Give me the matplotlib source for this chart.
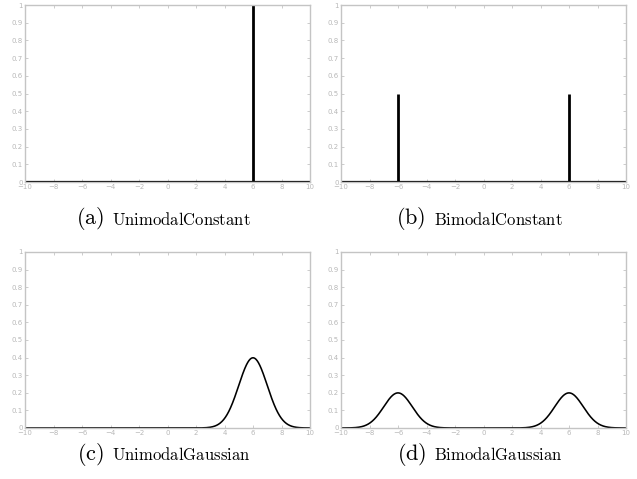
import numpy as np
import matplotlib
matplotlib.use("Agg")
import matplotlib.pyplot as plt

plt.rcParams['mathtext.fontset'] = 'cm'

# Data
panel_labels = ["a", "b", "c", "d"]
panel_names = ["UnimodalConstant", "BimodalConstant", "UnimodalGaussian", "BimodalGaussian"]
const_positions = {"a": [6], "b": [-6, 6]}
const_heights = {"a": [1.0], "b": [0.5, 0.5]}
gauss_means = {"c": [6], "d": [-6, 6]}
gauss_weights = {"c": [1.0], "d": [0.5, 0.5]}
gauss_sigma = 1.0
x_ticks = [-10, -8, -6, -4, -2, 0, 2, 4, 6, 8, 10]
y_ticks = [0, 0.1, 0.2, 0.3, 0.4, 0.5, 0.6, 0.7, 0.8, 0.9, 1]

W, H = 637, 479
fig = plt.figure(figsize=(W / 100, H / 100), dpi=100)

rects = {
    "a": (25, 5, 310, 182),
    "b": (341, 5, 626, 182),
    "c": (25, 252, 310, 428),
    "d": (341, 252, 626, 428),
}
captions_y = {"a": 219, "b": 219, "c": 454, "d": 454}

gray = "#c4c4c4"
x = np.linspace(-10, 10, 1001)

caps = []
for lab, name in zip(panel_labels, panel_names):
    l, t, r, b = rects[lab]
    ax = fig.add_axes([l / W, 1 - b / H, (r - l) / W, (b - t) / H])
    if lab in const_positions:
        ax.plot([-10, 10], [0, 0], color="black", lw=1.6, solid_capstyle="butt")
        ax.vlines(const_positions[lab], 0, const_heights[lab], color="black", lw=2.0)
    else:
        y = np.zeros_like(x)
        for m, w in zip(gauss_means[lab], gauss_weights[lab]):
            y += w * np.exp(-0.5 * ((x - m) / gauss_sigma) ** 2) / (gauss_sigma * np.sqrt(2 * np.pi))
        ax.plot(x, y, color="black", lw=1.15)
    ax.set_xlim(-10, 10)
    ax.set_ylim(0, 1)
    ax.set_xticks(x_ticks)
    ax.set_yticks(y_ticks)
    ax.set_xticklabels([("\u2212" + str(abs(v))) if v < 0 else str(v) for v in x_ticks])
    ax.set_yticklabels(["0" if v == 0 else ("1" if v == 1 else f"{v:.1f}") for v in y_ticks])
    ax.tick_params(direction="in", length=2.5, width=0.6, color=gray, labelcolor="#b8b8b8",
                   labelsize=5, pad=1.5, top=True, right=True)
    for s in ax.spines.values():
        s.set_color(gray)
        s.set_linewidth(1.0)
    cy = 1 - captions_y[lab] / H
    tp = fig.text(0, cy, r"$(\mathrm{%s})$" % lab, fontsize=16, ha="left", va="center")
    tn = fig.text(0, cy - 0.002, r"$\mathrm{%s}$" % name, fontsize=12, ha="left", va="center")
    caps.append((tp, tn, (l + r) / 2))

fig.canvas.draw()
renderer = fig.canvas.get_renderer()
gap = 8
for tp, tn, c in caps:
    wp = tp.get_window_extent(renderer).width
    wn = tn.get_window_extent(renderer).width
    total = wp + gap + wn
    start = c - 4 - total / 2
    tp.set_x(start / W)
    tn.set_x((start + wp + gap) / W)

fig.savefig("out.png", dpi=100)
